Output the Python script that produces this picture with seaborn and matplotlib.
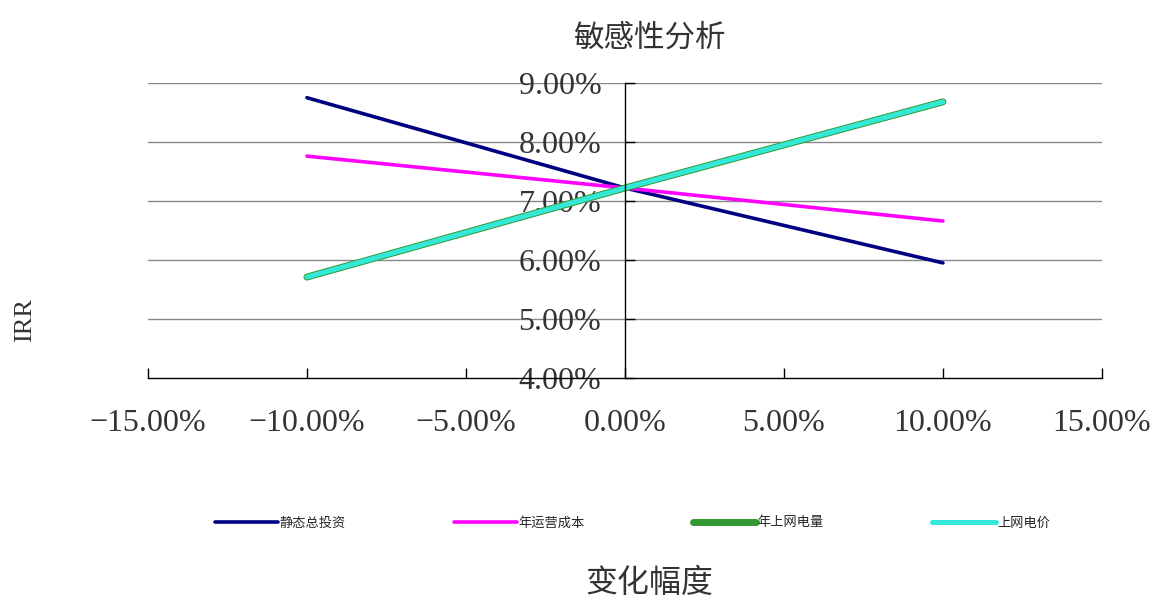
import pandas as pd
import numpy as np
import matplotlib
matplotlib.use("Agg")
import matplotlib.pyplot as plt
import seaborn as sns

# ── 数据 ──────────────────────────────────────────────
bianhua = [-0.10, 0.0, 0.10]                      # 变化幅度
touzi = [0.0875, 0.0722, 0.0595]                   # 静态总投资
chengben = [0.0776, 0.0722, 0.0666]                # 年运营成本
dianliang = [0.0571, 0.0722, 0.0868]               # 年上网电量
dianjia = [0.0571, 0.0722, 0.0868]                 # 上网电价

mingcheng = ["静态总投资", "年运营成本", "年上网电量", "上网电价"]
yanse = ["#000080", "#ff00ff", "#339933", "#33e8d8"]
xiankuan = [2.6, 2.6, 5.0, 3.6]

x_ticks = [-0.15, -0.10, -0.05, 0.0, 0.05, 0.10, 0.15]
y_ticks = [0.04, 0.05, 0.06, 0.07, 0.08, 0.09]

df = pd.DataFrame({
    "x": bianhua * 4,
    "irr": touzi + chengben + dianliang + dianjia,
    "ming": sum([[m] * 3 for m in mingcheng], []),
})

sns.set_style("white")
cjk = ["Noto Sans CJK SC", "DejaVu Sans"]
serif = ["Liberation Serif", "DejaVu Serif"]

fig = plt.figure(figsize=(11.54, 5.99), dpi=100)
ax = fig.add_axes([0.1282, 0.369, 0.8267, 0.4925])

for m, c, lw in zip(mingcheng, yanse, xiankuan):
    sub = df[df["ming"] == m]
    sns.lineplot(data=sub, x="x", y="irr", color=c, lw=lw, ax=ax,
                 label=m, solid_capstyle="round")

# 先移动坐标轴（会重置刻度），再设置刻度
ax.spines["left"].set_position(("data", 0))
ax.spines["top"].set_visible(False)
ax.spines["right"].set_visible(False)
for s in ["left", "bottom"]:
    ax.spines[s].set_color("black")
    ax.spines[s].set_linewidth(1.0)

ax.set_xlim(-0.15, 0.15)
ax.set_ylim(0.04, 0.09)
ax.set_xticks(x_ticks)
ax.set_yticks(y_ticks)
ax.set_xticklabels([f"{v*100:.2f}%".replace("-", "\u2212") for v in x_ticks],
                   fontfamily=serif, fontsize=23, color="#333333")
ax.set_yticklabels([f"{v*100:.2f}%" for v in y_ticks], fontfamily=serif, fontsize=23,
                   color="#333333")

for y in y_ticks[1:]:
    ax.axhline(y, color="#888888", lw=1.0, zorder=0)

ax.tick_params(axis="both", direction="in", length=7, width=1, color="black",
               bottom=True, left=True)
ax.tick_params(axis="x", pad=22)
ax.tick_params(axis="y", pad=17)

ax.set_xlabel("")
ax.set_ylabel("")
ax.get_legend().remove()

fig.text(0.563, 0.937, "敏感性分析", fontfamily=cjk, fontsize=22, ha="center", va="center",
         color="#333333")
fig.text(0.563, 0.027, "变化幅度", fontfamily=cjk, fontsize=23, ha="center", va="center",
         color="#333333")
fig.text(0.022, 0.465, "IRR", fontfamily=serif, fontsize=19, ha="center", va="center",
         rotation=90, color="#333333")

h, l = ax.get_legend_handles_labels()
fig.legend(h, l, loc="center", bbox_to_anchor=(0.548, 0.127), ncol=4, frameon=False,
           prop={"family": cjk, "size": 9.5}, handlelength=4.8, handletextpad=0.1,
           columnspacing=8.2)

fig.savefig("out.png", dpi=100)
